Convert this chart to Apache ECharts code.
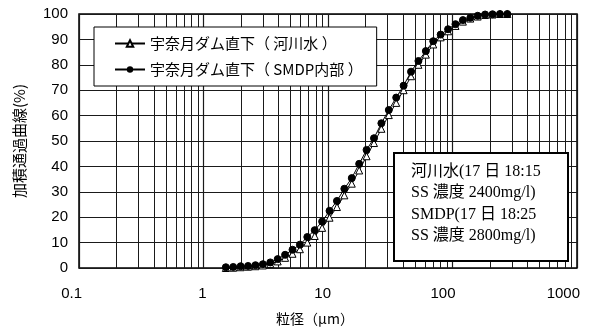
<!DOCTYPE html>
<html>
<head>
<meta charset="utf-8">
<script src="https://cdn.jsdelivr.net/npm/echarts@6/dist/echarts.min.js"></script>
<style>html,body{margin:0;padding:0;background:#fff;}#c{width:607px;height:331px;}</style>
</head>
<body>
<div id="c"></div>
<script>
// Particle size bins (μm)
var sizes = [1.511, 1.733, 1.988, 2.280, 2.615, 2.999, 3.439, 3.944, 4.523, 5.187, 5.949, 6.822, 7.824, 8.973, 10.29, 11.80, 13.53, 15.52, 17.80, 20.41, 23.41, 26.84, 30.79, 35.31, 40.49, 46.44, 53.26, 61.08, 70.05, 80.34, 92.13, 105.7, 121.2, 139.0, 159.4, 182.8, 209.6, 240.4, 275.7];
// 宇奈月ダム直下（河川水） cumulative passing (%)
var riverWater = [0, 0.1, 0.3, 0.5, 0.7, 1.0, 1.6, 2.6, 4.0, 5.6, 7.4, 10.0, 12.6, 15.8, 19.8, 24.0, 28.6, 33.2, 38.4, 44.0, 49.2, 54.8, 60.2, 65.0, 70.0, 75.5, 80.0, 84.0, 88.0, 90.8, 93.2, 95.3, 97.0, 98.2, 99.0, 99.6, 99.8, 100, 100];
// 宇奈月ダム直下（SMDP内部） cumulative passing (%)
var smdp = [0.3, 0.4, 0.7, 0.8, 1.1, 1.5, 2.2, 3.5, 5.2, 7.2, 9.2, 12.2, 14.9, 18.3, 22.5, 26.4, 31.2, 35.4, 41.0, 46.5, 51.1, 57.0, 62.2, 67.1, 71.8, 77.3, 81.5, 85.4, 89.3, 91.9, 94.0, 96.0, 97.6, 98.5, 99.3, 99.8, 99.9, 100, 100];
var seriesNames = ['宇奈月ダム直下（ 河川水 ）', '宇奈月ダム直下（ SMDP内部 ）'];
var xTickLabels = ['0.1', '1', '10', '100', '1000'];
var minorGrid = [0.2, 0.3, 0.4, 0.5, 0.6, 0.7, 0.8, 0.9, 2, 3, 4, 5, 6, 7, 8, 9, 20, 30, 40, 50, 60, 70, 80, 90, 200, 300, 400, 500, 600, 700, 800, 900];
var noteLines = ['河川水(17 日 18:15', 'SS 濃度 2400mg/l)', 'SMDP(17 日 18:25', 'SS 濃度 2800mg/l)'];

function pairs(xs, ys) { return xs.map(function (x, i) { return [x, ys[i]]; }); }

var chart = echarts.init(document.getElementById('c'));
var gridColor = '#1a1a1a';
chart.setOption({
  animation: false,
  backgroundColor: '#fff',
  grid: { left: 79, right: 30, top: 14, bottom: 61, show: true, borderColor: '#000', borderWidth: 1.5, backgroundColor: 'transparent' },
  legend: {
    orient: 'vertical', left: 94, top: 27,
    backgroundColor: '#fff', borderColor: '#000', borderWidth: 1,
    padding: [9, 14, 9, 20], itemGap: 11, itemWidth: 30, itemHeight: 8,
    textStyle: { fontFamily: 'Noto Sans CJK JP', fontSize: 15, color: '#000' },
    data: seriesNames
  },
  xAxis: {
    type: 'log', logBase: 10, min: 0.1, max: 1000,
    axisLine: { show: false }, axisTick: { show: false },
    splitLine: { show: true, lineStyle: { color: gridColor, width: 1.2 } },
    axisLabel: { margin: 18, color: '#000', fontSize: 15, fontFamily: 'Liberation Sans', align: 'right', padding: [0, -3, 0, 0],
      formatter: function (v) { var i = Math.round(Math.log10(v)) + 1; return xTickLabels[i] !== undefined ? xTickLabels[i] : ''; } },
    name: '粒径（μm）', nameLocation: 'middle', nameGap: 44,
    nameTextStyle: { fontFamily: 'Noto Sans CJK JP', fontSize: 14, color: '#000', padding: [0, 26, 0, 0] }
  },
  yAxis: {
    type: 'value', min: 0, max: 100, interval: 10,
    axisLine: { show: false }, axisTick: { show: false },
    splitLine: { show: true, lineStyle: { color: gridColor, width: 1.2 } },
    axisLabel: { margin: 11, color: '#000', fontSize: 15, fontFamily: 'Liberation Sans' },
    name: '加積通過曲線(%)', nameLocation: 'middle', nameGap: 52,
    nameTextStyle: { fontFamily: 'Noto Sans CJK JP', fontSize: 15, color: '#000' }
  },
  series: [
    {
      name: seriesNames[0], type: 'line', data: pairs(sizes, riverWater),
      symbol: 'triangle', symbolSize: 7,
      itemStyle: { color: '#fff', borderColor: '#000', borderWidth: 1 },
      lineStyle: { color: '#000', width: 1 },
      z: 3,
      markLine: {
        silent: true, symbol: 'none', animation: false,
        label: { show: false },
        lineStyle: { color: gridColor, width: 1, type: 'solid' },
        data: minorGrid.map(function (v) { return { xAxis: v }; }),
        z: 1
      }
    },
    {
      name: seriesNames[1], type: 'line', data: pairs(sizes, smdp),
      symbol: 'circle', symbolSize: 7,
      itemStyle: { color: '#000', borderColor: '#000' },
      lineStyle: { color: '#000', width: 1 },
      z: 4
    }
  ],
  graphic: [
    {
      type: 'rect', left: 393, top: 152, z: 100,
      shape: { width: 174, height: 108 },
      style: { fill: '#fff', stroke: '#000', lineWidth: 2 }
    },
    {
      type: 'text', left: 411, top: 161, z: 101,
      style: {
        text: noteLines.join('\n'), fill: '#000',
        font: '16px "Liberation Serif", "Noto Sans CJK JP", serif', lineHeight: 21.5
      }
    }
  ]
});
</script>
</body>
</html>
